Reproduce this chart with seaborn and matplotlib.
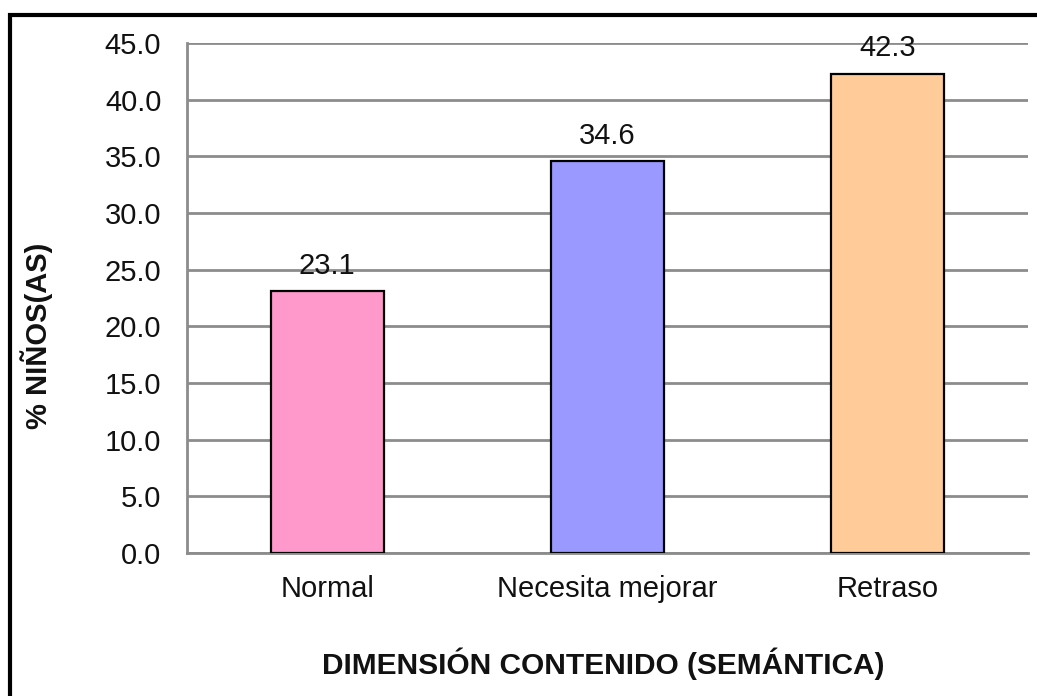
import matplotlib
matplotlib.use("Agg")
import matplotlib.pyplot as plt
import seaborn as sns
import pandas as pd
from matplotlib.patches import Rectangle

# datos del gráfico
categorias = ["Normal", "Necesita mejorar", "Retraso"]
porcentajes = [23.1, 34.6, 42.3]
colores = ["#FF99CC", "#9999FF", "#FFCC99"]
ticks_y = [0, 5, 10, 15, 20, 25, 30, 35, 40, 45]

df = pd.DataFrame({"Categoria": categorias, "Porcentaje": porcentajes})

sns.set_style("white")
plt.rcParams["font.family"] = ["Liberation Sans", "DejaVu Sans"]

fig = plt.figure(figsize=(10.37, 6.96), dpi=100)
ax = fig.add_axes([187 / 1037, 1 - 553 / 696, (1028 - 187) / 1037, (553 - 43) / 696])

sns.barplot(data=df, x="Categoria", y="Porcentaje", hue="Categoria",
            palette=colores, saturation=1, edgecolor="black", linewidth=1.6,
            width=0.403, legend=False, ax=ax, zorder=3)

ax.set_xlim(-0.5, 2.5)
ax.set_ylim(0, 45)
ax.set_yticks(ticks_y)
ax.set_yticklabels([f"{v:.1f}" for v in ticks_y])
ax.yaxis.grid(True, color="#8c8c8c", linewidth=2, zorder=0)
ax.set_axisbelow(True)

# etiquetas de valores
for i, v in enumerate(porcentajes):
    ax.text(i, v + 1.0, f"{v:.1f}", ha="center", va="bottom", fontsize=21, color="#111111", zorder=4)

for s in ["top", "right"]:
    ax.spines[s].set_visible(False)
for s in ["left", "bottom"]:
    ax.spines[s].set_color("#8c8c8c")
    ax.spines[s].set_linewidth(2)

ax.tick_params(axis="y", length=6.5, width=2, color="#8c8c8c", labelsize=21, pad=12, labelcolor="#111111")
ax.tick_params(axis="x", which="major", length=0, labelsize=21, pad=16, labelcolor="#111111")
ax.set_xticks([-0.5, 0.5, 1.5, 2.5], minor=True)
ax.tick_params(axis="x", which="minor", length=6.5, width=2, color="#8c8c8c")

ax.set_xlabel("DIMENSIÓN CONTENIDO (SEMÁNTICA)", fontsize=21.5, fontweight="bold", color="#111111")
ax.set_ylabel("% NIÑOS(AS)", fontsize=21, fontweight="bold", color="#111111")
ax.xaxis.set_label_coords((603 - 187) / 841, (553 - 648) / 510)
ax.yaxis.set_label_coords((53 - 187) / 841, (553 - 336) / 510)

# borde del gráfico
fig.patches.append(Rectangle((10 / 1037, -0.1), 1.2, 1 - 15 / 696 + 0.1, transform=fig.transFigure,
                             fill=False, edgecolor="black", linewidth=3, zorder=10))

fig.savefig("out.png", dpi=100)
